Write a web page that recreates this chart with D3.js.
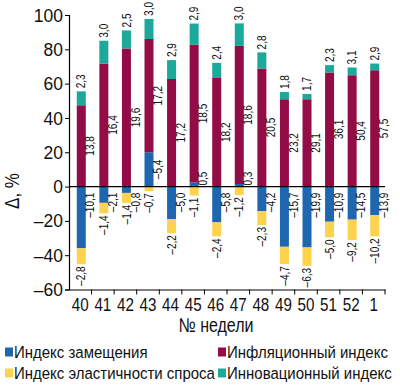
<!DOCTYPE html>
<html>
<head>
<meta charset="utf-8">
<script src="https://cdn.jsdelivr.net/npm/d3@7"></script>
<style>
  body { margin: 0; background: #fff; }
  svg { display: block; font-family: "Liberation Sans", Arial, sans-serif; }
</style>
</head>
<body>
<div id="chart"></div>
<script>
// weeks
const weeks = ["40", "41", "42", "43", "44", "45", "46", "47", "48", "49", "50", "51", "52", "1"];

// bar heights, %
const zam   = [-36, -9.5, -3.7, 20, -18.9, 2.5, -20.9, 1.5, -14.4, -35.1, -35.5, -20.5, -19.3, -16.6];
const infl  = [47.4, 71.7, 80.5, 66, 62.7, 80.1, 63.3, 80.5, 68.8, 50.9, 50.9, 66.5, 64.9, 67.8];
const elast = [-9.3, -6.1, -5.8, -2.7, -8.2, -5.3, -8.1, -5.0, -8.0, -10.1, -10.7, -9.1, -11.9, -12.4];
const innov = [8.1, 13.3, 10.5, 11.7, 11.0, 12.4, 8.8, 13.1, 9.4, 4.2, 3.1, 4.3, 4.5, 3.9];

// value labels printed next to the segments
const zamLbl   = ["–10,1", "–2,1", "–0,8", "–5,4", "–5,0", "0,5", "–5,8", "0,3", "–4,2", "–15,7", "–19,9", "–10,9", "–14,5", "–13,9"];
const inflLbl  = ["13,8", "16,4", "19,6", "17,2", "17,2", "18,5", "18,2", "18,6", "20,5", "23,2", "29,1", "36,1", "50,4", "57,5"];
const elastLbl = ["–2,8", "–1,4", "–1,4", "–0,7", "–2,2", "–1,1", "–2,4", "–1,2", "–2,3", "–4,7", "–6,3", "–5,0", "–9,2", "–10,2"];
const innovLbl = ["2,3", "3,0", "2,5", "3,0", "2,9", "2,9", "2,4", "3,0", "2,8", "1,8", "1,7", "2,3", "3,1", "2,9"];

const yTicks = [-60, -40, -20, 0, 20, 40, 60, 80, 100];

const series = [
  { key: "zam", name: "Индекс замещения", color: "#1f66b0" },
  { key: "infl", name: "Инфляционный индекс", color: "#930c45" },
  { key: "innov", name: "Инновационный индекс", color: "#1aa99b" },
  { key: "elast", name: "Индекс эластичности спроса", color: "#fdd34e" }
];

const width = 400, height = 386;
const mLeft = 69, mRight = 385, mTop = 15, mBottom = 289.5;

// the original uses a condensed face; squeeze text along its baseline
const squeeze = (sel, k) => sel.each(function () {
  const t = d3.select(this);
  t.attr("transform", (t.attr("transform") || "") + ` scale(${k},1)`);
});

const rows = weeks.map((w, i) => ({
  week: w, zam: zam[i], infl: infl[i], innov: innov[i], elast: elast[i]
}));

const stacked = d3.stack()
  .keys(series.map(s => s.key))
  .offset(d3.stackOffsetDiverging)(rows);

const x = d3.scaleBand().domain(weeks).range([mLeft, mRight]);
const y = d3.scaleLinear().domain([-60, 100]).range([mBottom, mTop]);
const barW = 9;
const bx = w => x(w) + x.bandwidth() / 2 - barW / 2 + 1;
const color = d3.scaleOrdinal(series.map(s => s.key), series.map(s => s.color));

const svg = d3.select("#chart").append("svg")
  .attr("width", width)
  .attr("height", height);

// bars
svg.append("g")
  .selectAll("g")
  .data(stacked)
  .join("g")
  .attr("fill", d => color(d.key))
  .selectAll("rect")
  .data(d => d)
  .join("rect")
  .attr("x", d => bx(d.data.week))
  .attr("y", d => y(Math.max(d[0], d[1])))
  .attr("width", barW)
  .attr("height", d => Math.abs(y(d[0]) - y(d[1])));

// y axis
svg.append("g")
  .attr("transform", `translate(${mLeft},0)`)
  .call(d3.axisLeft(y).tickValues(yTicks).tickSize(4).tickFormat(d => d < 0 ? "–" + Math.abs(d) : d))
  .call(g => g.select(".domain").attr("stroke", "#000").attr("stroke-width", 1.2))
  .call(g => g.selectAll(".tick line").attr("stroke", "#000"))
  .call(g => g.selectAll(".tick text").attr("font-size", 19).attr("x", -6.5).attr("fill", "#111"))
  .call(g => squeeze(g.selectAll(".tick text"), 0.92));

// zero line
svg.append("line")
  .attr("x1", mLeft).attr("x2", mRight)
  .attr("y1", y(0)).attr("y2", y(0))
  .attr("stroke", "#000").attr("stroke-width", 1.2);

// x axis
const xg = svg.append("g").attr("transform", `translate(0,${mBottom})`);
xg.call(d3.axisBottom(x).tickSize(0).tickSizeOuter(0))
  .call(g => g.select(".domain").attr("stroke", "#000").attr("stroke-width", 1.2))
  .call(g => g.selectAll(".tick text").attr("font-size", 19).attr("dy", "0.95em").attr("fill", "#111"))
  .call(g => squeeze(g.selectAll(".tick text"), 0.8));
xg.selectAll(".bnd")
  .data(weeks.slice(1).concat(["end"]))
  .join("line")
  .attr("x1", (d, i) => i < weeks.length - 1 ? x(d) : mRight)
  .attr("x2", (d, i) => i < weeks.length - 1 ? x(d) : mRight)
  .attr("y1", 0).attr("y2", 5)
  .attr("stroke", "#000");

// labels
const kLbl = 0.84;
const lbl = svg.append("g").attr("font-size", 12).attr("fill", "#111");
const rot = (g, cx, cy, anchor, text) => g.append("text")
  .attr("transform", `translate(${cx},${cy}) rotate(-90) scale(${kLbl},1)`)
  .attr("text-anchor", anchor)
  .attr("dy", "0.35em")
  .text(text);

const byKey = {};
stacked.forEach(s => byKey[s.key] = s);
const y0 = y(0);
const hi = d => Math.max(d[0], d[1]);
const lo = d => Math.min(d[0], d[1]);

weeks.forEach((w, i) => {
  const cx = bx(w) + barW / 2;
  // innov: above bar top
  rot(lbl, cx, y(hi(byKey.innov[i])) - 3, "start", innovLbl[i]);
  // infl: right of bar, at segment mid
  const sM = byKey.infl[i];
  rot(lbl, cx + 9, (y(sM[0]) + y(sM[1])) / 2, "middle", inflLbl[i]);
  // elast: below bar bottom
  rot(lbl, cx, y(lo(byKey.elast[i])) + 2, "end", elastLbl[i]);
  // zam: right of bar
  const sZ = byKey.zam[i];
  if (zam[i] < 0) {
    rot(lbl, cx + 9, y0 + 6, "end", zamLbl[i]);
  } else {
    const mid = (y(sZ[0]) + y(sZ[1])) / 2;
    const t = rot(lbl, cx + 9, mid, "middle", zamLbl[i]);
    const len = t.node().getComputedTextLength() * kLbl;
    if (mid + len / 2 > y0 - 1) t.attr("transform", `translate(${cx + 9},${y0 - 1 - len / 2}) rotate(-90) scale(${kLbl},1)`);
  }
});

// axis titles
svg.append("text")
  .attr("transform", `translate(12,191) rotate(-90)`)
  .attr("text-anchor", "middle")
  .attr("dy", "0.35em")
  .attr("font-size", 20)
  .attr("fill", "#111")
  .text("Δ, %")
  .call(t => squeeze(t, 0.85));

svg.append("text")
  .attr("transform", "translate(216,332)")
  .attr("text-anchor", "middle")
  .attr("font-size", 20)
  .attr("fill", "#111")
  .text("№ недели")
  .call(t => squeeze(t, 0.8));

// legend
const legendItems = [
  { s: series[0], x: 5, y: 352 },
  { s: series[1], x: 218, y: 352 },
  { s: series[3], x: 5, y: 373 },
  { s: series[2], x: 218, y: 373 }
];
const lg = svg.append("g").selectAll("g").data(legendItems).join("g")
  .attr("transform", d => `translate(${d.x},${d.y})`);
lg.append("rect").attr("x", 0).attr("y", -4.5).attr("width", 8).attr("height", 9).attr("fill", d => d.s.color);
const lt = lg.append("text")
  .attr("transform", "translate(9,0)")
  .attr("dy", "0.36em").attr("font-size", 17).attr("fill", "#111")
  .text(d => d.s.name);
// fit the longest legend entry into the space before the second column
const longest = lt.filter(d => d.s.key === "elast").node().getComputedTextLength();
squeeze(lt, 201 / longest);
</script>
</body>
</html>
